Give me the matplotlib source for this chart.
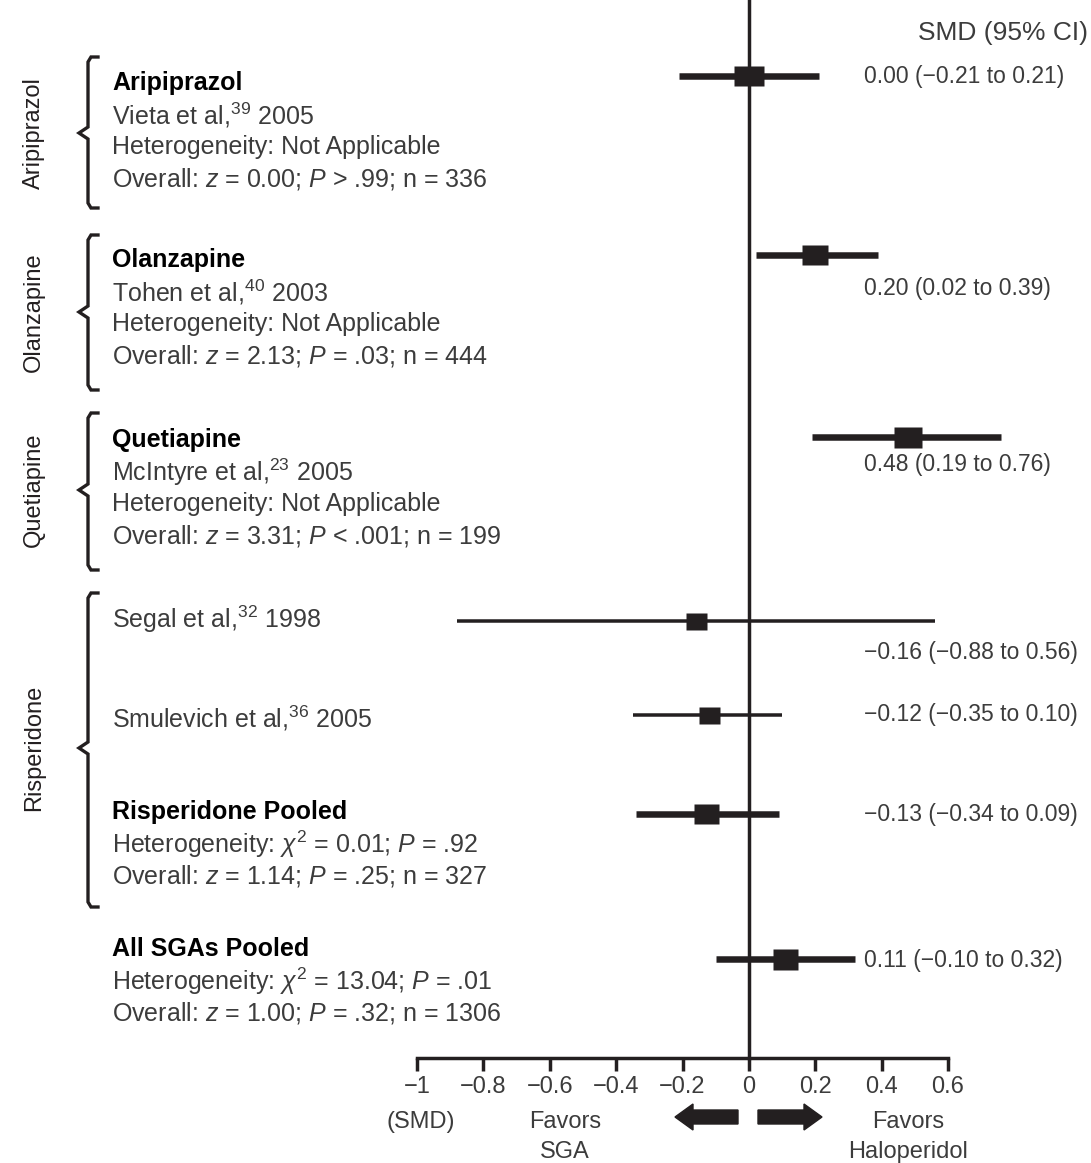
import matplotlib
matplotlib.use('Agg')
import matplotlib.pyplot as plt
from matplotlib.path import Path
from matplotlib.patches import FancyArrow

plt.rcParams['font.family'] = ['Liberation Sans', 'DejaVu Sans']
plt.rcParams['mathtext.fontset'] = 'custom'
plt.rcParams['mathtext.rm'] = 'Liberation Sans'
plt.rcParams['mathtext.it'] = 'Liberation Sans:italic'
plt.rcParams['mathtext.bf'] = 'Liberation Sans:bold'

# data
studies = ['Aripiprazol', 'Olanzapine', 'Quetiapine', 'Segal', 'Smulevich',
           'Risperidone Pooled', 'All SGAs Pooled']
smd = [0.00, 0.20, 0.48, -0.16, -0.12, -0.13, 0.11]
ci_lo = [-0.21, 0.02, 0.19, -0.88, -0.35, -0.34, -0.10]
ci_hi = [0.21, 0.39, 0.76, 0.56, 0.10, 0.09, 0.32]
ticks = [-1, -0.8, -0.6, -0.4, -0.2, 0, 0.2, 0.4, 0.6]
tick_labels = ['\u22121', '\u22120.8', '\u22120.6', '\u22120.4', '\u22120.2',
               '0', '0.2', '0.4', '0.6']
groups = ['Aripiprazol', 'Olanzapine', 'Quetiapine', 'Risperidone']

# left-hand text blocks: (text, bold?)
blocks = [
    [('Aripiprazol', True), (r'Vieta et al,$^{39}$ 2005', False),
     ('Heterogeneity: Not Applicable', False),
     (r'Overall: $z$ = 0.00; $P$ > .99; n = 336', False)],
    [('Olanzapine', True), (r'Tohen et al,$^{40}$ 2003', False),
     ('Heterogeneity: Not Applicable', False),
     (r'Overall: $z$ = 2.13; $P$ = .03; n = 444', False)],
    [('Quetiapine', True), (r'McIntyre et al,$^{23}$ 2005', False),
     ('Heterogeneity: Not Applicable', False),
     (r'Overall: $z$ = 3.31; $P$ < .001; n = 199', False)],
    [(r'Segal et al,$^{32}$ 1998', False)],
    [(r'Smulevich et al,$^{36}$ 2005', False)],
    [('Risperidone Pooled', True),
     (r'Heterogeneity: $\chi^2$ = 0.01; $P$ = .92', False),
     (r'Overall: $z$ = 1.14; $P$ = .25; n = 327', False)],
    [('All SGAs Pooled', True),
     (r'Heterogeneity: $\chi^2$ = 13.04; $P$ = .01', False),
     (r'Overall: $z$ = 1.00; $P$ = .32; n = 1306', False)],
]

# layout (pixel rows of the 1091x1163 canvas)
W, H = 1091, 1163
mark_y = [76, 255, 437, 621, 715, 814, 959]
label_y = [76, 288, 464, 652, 715, 814, 961]
text_y = [83, 260, 440, 619, 718, 812, 949]
line_gap = 32
box_px = [(30, 20), (26, 20), (28, 21), (21, 17), (21, 17), (25, 20), (25, 21)]
line_px = [6.5, 6.5, 6.5, 3.5, 3.5, 6.5, 6.5]
braces = [(57, 133, 208), (235, 312, 390), (413, 490, 570), (593, 748, 907)]

dark = '#231f20'
grey = '#3c3c3c'
fs = 18

fig = plt.figure(figsize=(W / 100, H / 100), dpi=100)
bg = fig.add_axes([0, 0, 1, 1])
bg.set_xlim(0, W)
bg.set_ylim(H, 0)
bg.axis('off')

x0, x1, y_axis = 417, 948, 1058
ax = fig.add_axes([x0 / W, (H - y_axis) / H, (x1 - x0) / W, y_axis / H])
ax.patch.set_alpha(0)
ax.set_xlim(-1, 0.6)
ax.set_ylim(y_axis, 0)
for s in ['top', 'left', 'right']:
    ax.spines[s].set_visible(False)
ax.spines['bottom'].set_linewidth(2.5)
ax.spines['bottom'].set_color(dark)
ax.set_yticks([])
ax.set_xticks(ticks)
ax.set_xticklabels(tick_labels)
ax.tick_params(axis='x', length=9, width=2.5, color=dark, labelsize=17,
               labelcolor=grey, pad=4)
ax.axvline(0, color=dark, lw=2.5, clip_on=False)

for i in range(len(studies)):
    ax.plot([ci_lo[i], ci_hi[i]], [mark_y[i], mark_y[i]], color=dark,
            lw=line_px[i] * 0.72, solid_capstyle='butt', clip_on=False)
    w, h = box_px[i]
    verts = [(-w / 2, -h / 2), (w / 2, -h / 2), (w / 2, h / 2), (-w / 2, h / 2), (-w / 2, -h / 2)]
    ax.plot([smd[i]], [mark_y[i]], marker=Path(verts, closed=True), ms=w * 0.72,
            color=dark, mec='none', clip_on=False, zorder=5)
    lab = '%.2f (%.2f to %.2f)' % (smd[i], ci_lo[i], ci_hi[i])
    bg.text(864, label_y[i], lab.replace('-', '\u2212'), fontsize=16.5,
            color=grey, va='center', ha='left')

bg.text(1088, 33, 'SMD (95% CI)', fontsize=19, color=grey, ha='right', va='center')

# left text
for i, blk in enumerate(blocks):
    for j, (t, b) in enumerate(blk):
        bg.text(112, text_y[i] + j * line_gap, t, fontsize=fs,
                fontweight='bold' if b else 'normal',
                color='black' if b else grey, va='center', ha='left')

# braces and group labels
for (top, mid, bot), g in zip(braces, groups):
    x = 88
    bx = [x + 10, x + 3, x, x, x - 9, x, x, x + 3, x + 10]
    by = [top, top, top + 5, mid - 6, mid, mid + 6, bot - 5, bot, bot]
    bg.plot(bx, by, color=dark, lw=2.4, solid_joinstyle='miter')
    bg.text(34, mid, g, rotation=90, fontsize=17, color=dark,
            ha='center', va='center')

# bottom annotations
bg.text(421, 1122, '(SMD)', fontsize=17, color=grey, ha='center', va='center')
bg.text(565, 1122, 'Favors', fontsize=17, color=grey, ha='center', va='center')
bg.text(565, 1152, 'SGA', fontsize=17, color=grey, ha='center', va='center')
bg.text(908, 1122, 'Favors', fontsize=17, color=grey, ha='center', va='center')
bg.text(908, 1152, 'Haloperidol', fontsize=17, color=grey, ha='center', va='center')
bg.add_patch(FancyArrow(738, 1117, -63, 0, width=14, head_width=26, head_length=18,
                        length_includes_head=True, color=dark))
bg.add_patch(FancyArrow(758, 1117, 64, 0, width=14, head_width=26, head_length=18,
                        length_includes_head=True, color=dark))

fig.savefig('out.png', dpi=100)
